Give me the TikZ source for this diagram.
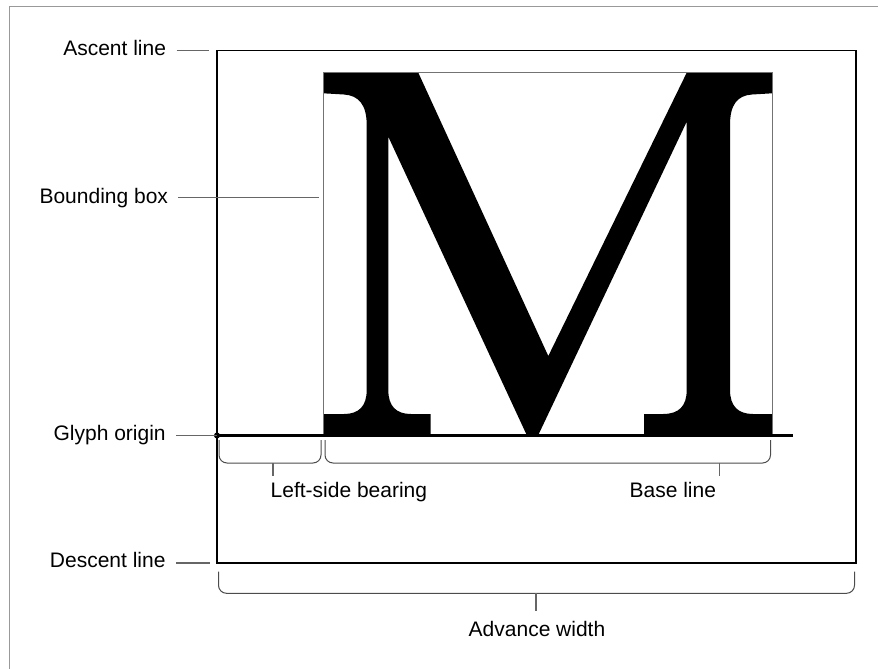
\documentclass[tikz,border=0pt]{standalone}
\usepackage{fontspec}
\setmainfont{Liberation Sans}
\begin{document}
\begin{tikzpicture}[x=0.75pt,y=-0.75pt,
  lbl/.style={inner sep=0pt,outer sep=0pt,font=\fontsize{15.75pt}{18pt}\selectfont},
  leader/.style={draw=black!60,line width=0.8pt},
  bracket/.style={draw=black!70,line width=0.75pt,rounded corners=6pt},
  frameline/.style={draw=black!40,line width=1.1pt},
  mainbox/.style={draw=black,line width=1.1pt},
  glyphbox/.style={draw=black!55,line width=0.7pt},
  baseline/.style={draw=black,line width=2.2pt}]
\useasboundingbox (0,0) rectangle (878,668);
\clip (0,0) rectangle (878,668);
% outer frame
\draw[frameline] (9.5,700) -- (9.5,6.5) -- (900,6.5);
% main box (ascent to descent, advance width)
\draw[mainbox] (217,50.5) rectangle (856,563);
% glyph M
\fill[black] (323.3,72.7) -- (418.3,72.7) -- (548.3,356) -- (686.7,72.7) -- (772.3,72.7)
  -- (772.3,93.3) -- (752,94.5) .. controls (737,95.5) and (730,105) .. (730,125)
  -- (730,390) .. controls (730,406) and (738,414) .. (753,414) -- (772.3,414)
  -- (772.3,435) -- (644,435) -- (644,414) -- (663,414)
  .. controls (679,414) and (686.7,406) .. (686.7,390)
  -- (686.7,121.7) -- (538.3,435) -- (526.7,435) -- (388.3,136.7)
  -- (388.3,390) .. controls (388.3,406) and (396,414) .. (411,414) -- (430.7,414)
  -- (430.7,435) -- (323.3,435) -- (323.3,414) -- (344,414)
  .. controls (359,414) and (366.7,406) .. (366.7,390)
  -- (366.7,125) .. controls (366.7,105) and (359,95.5) .. (344,94.5) -- (323.3,93.3) -- cycle;
% glyph bounding box
\draw[glyphbox] (323.3,72.7) rectangle (772.3,435);
% base line and origin
\coordinate (origin) at (217,435.5);
\coordinate (baseend) at (793,435.5);
\draw[baseline] (origin) -- (baseend);
\fill (origin) circle (2.3pt);
% labels
\node[lbl,anchor=base east] (asc) at (166,55.5) {Ascent line};
\node[lbl,anchor=base east] (bbox) at (168,203) {Bounding box};
\node[lbl,anchor=base east] (orig) at (165.7,440.5) {Glyph origin};
\node[lbl,anchor=base east] (desc) at (165.5,567.5) {Descent line};
\node[lbl,anchor=base west] (lsb) at (270.7,497) {Left-side bearing};
\node[lbl,anchor=base east] (bl) at (716,497) {Base line};
\node[lbl,anchor=base] (adv) at (537,636.7) {Advance width};
% leader lines
\coordinate (ascend) at (209,50.7);
\coordinate (bboxend) at (319,197.3);
\coordinate (descend) at (210,563);
\draw[leader] ([xshift=8pt]asc.east |- ascend) -- (ascend);
\draw[leader] ([xshift=7.5pt]bbox.east |- bboxend) -- (bboxend);
\draw[leader] ([xshift=8pt]orig.east |- origin) -- (origin);
\draw[leader] ([xshift=8pt]desc.east |- descend) -- (descend);
% brackets
\draw[bracket] (219,440) -- (219,463) -- (321,463) -- (321,440);
\coordinate (lsbtick) at (273,463);
\draw[leader] (lsbtick) -- (273,475.5);
\draw[bracket] (325,440) -- (325,463) -- (770.5,463) -- (770.5,440);
\coordinate (bltick) at (719.3,463);
\draw[leader] (bltick) -- (719.3,475.5);
\draw[bracket] (218.5,571.5) -- (218.5,593.3) -- (854.5,593.3) -- (854.5,571.5);
\coordinate (advtick) at (536,593.3);
\draw[leader] (advtick) -- (536,611);
\end{tikzpicture}
\end{document}
